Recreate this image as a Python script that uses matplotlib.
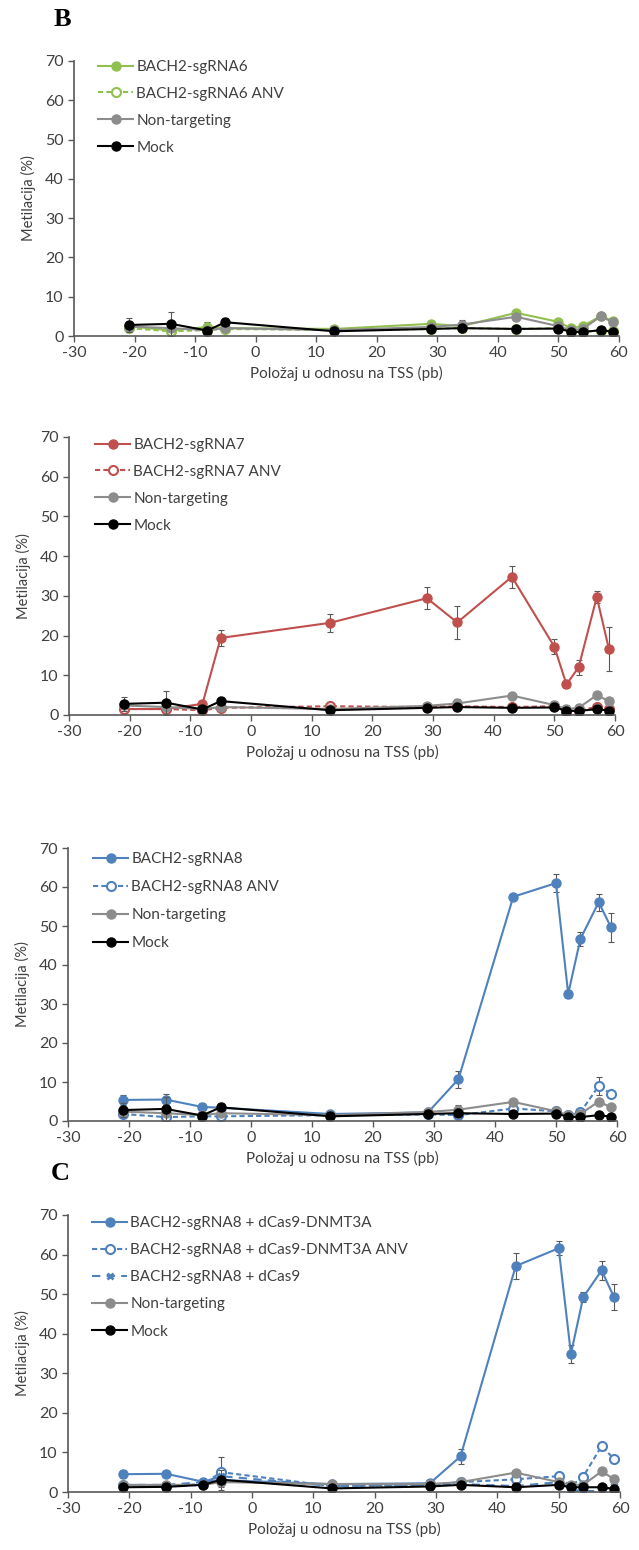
import matplotlib
matplotlib.use('Agg')
import matplotlib.pyplot as plt

# CpG positions relative to TSS (bp)
pos = [-21, -14, -8, -5, 13, 29, 34, 43, 50, 52, 54, 57, 59]

# Panel B controls (shared by the three B charts)
nt_b = [2.4, 2.0, 1.5, 2.0, 1.5, 2.3, 2.9, 4.9, 2.5, 1.5, 1.8, 5.0, 3.5]
nt_b_err = [1.0, 0.8, 0.6, 0.8, 0.5, 0.5, 1.2, 0.5, 1.0, 1.0, 1.0, 0.6, 0.6]
mock_b = [2.8, 3.1, 1.4, 3.5, 1.2, 1.8, 2.0, 1.8, 1.9, 1.1, 1.0, 1.5, 1.1]
mock_b_err = [1.8, 3.0, 0.8, 1.0, 0.5, 0.4, 0.5, 0.4, 0.5, 0.4, 0.3, 0.4, 0.3]

# sgRNA6
sg6 = [2.5, 1.4, 2.3, 2.0, 1.8, 3.1, 2.5, 5.9, 3.6, 2.0, 2.5, 5.1, 3.8]
sg6_err = [1.0, 0.8, 1.2, 1.0, 0.6, 0.6, 0.8, 0.8, 0.6, 0.5, 0.5, 0.7, 0.6]
sg6_anv = [2.0, 1.2, 1.5, 1.8, 1.5, 1.8, 2.0, 1.8, 2.0, 1.3, 1.2, 1.3, 1.2]
sg6_anv_err = [0.5, 0.4, 0.4, 0.4, 0.3, 0.3, 0.4, 0.3, 0.4, 0.3, 0.3, 0.3, 0.3]

# sgRNA7
sg7 = [1.5, 1.5, 2.8, 19.4, 23.2, 29.4, 23.3, 34.8, 17.2, 7.7, 12.0, 29.7, 16.6]
sg7_err = [0.8, 0.6, 0.6, 2.1, 2.2, 2.8, 4.1, 2.8, 1.9, 0.8, 1.9, 1.6, 5.5]
sg7_anv = [1.5, 1.5, 1.2, 1.8, 2.2, 2.0, 2.2, 2.0, 2.2, 0.8, 1.2, 2.0, 1.5]
sg7_anv_err = [0.5, 0.4, 0.4, 0.4, 0.3, 0.3, 0.4, 0.3, 0.4, 0.3, 0.3, 0.3, 0.3]

# sgRNA8
sg8 = [5.4, 5.5, 3.6, 3.4, 1.8, 2.2, 10.7, 57.5, 61.0, 32.6, 46.7, 56.1, 49.7]
sg8_err = [1.2, 1.3, 0.9, 0.8, 0.4, 0.4, 2.2, 0.6, 2.4, 1.0, 1.8, 2.2, 3.7]
sg8_anv = [1.8, 1.0, 1.2, 1.2, 1.5, 1.7, 1.5, 3.2, 2.5, 1.5, 2.2, 9.0, 7.0]
sg8_anv_err = [0.5, 0.4, 0.4, 0.4, 0.3, 0.3, 0.4, 0.4, 0.4, 0.3, 0.4, 2.3, 0.4]

# Panel C: sgRNA8 with dCas9 variants + own controls
dnmt = [4.5, 4.6, 2.6, 3.0, 2.0, 2.2, 9.0, 57.1, 61.6, 34.9, 49.2, 56.0, 49.3]
dnmt_err = [1.0, 0.8, 0.6, 0.8, 0.4, 0.4, 1.8, 3.3, 1.8, 2.3, 1.3, 2.3, 3.2]
dnmt_anv = [1.8, 1.5, 2.0, 5.0, 1.5, 1.8, 2.5, 3.2, 4.0, 1.5, 3.9, 11.6, 8.4]
dnmt_anv_err = [0.5, 0.4, 0.5, 3.8, 0.3, 0.3, 0.4, 0.4, 0.5, 0.3, 0.4, 0.6, 0.5]
dcas9 = [1.8, 1.8, 2.5, 4.0, 1.5, 1.8, 2.0, 1.5, 2.5, 0.5, 0.3, 0.2, 1.5]
dcas9_err = [0.4, 0.4, 0.4, 0.6, 0.3, 0.3, 0.4, 0.3, 0.4, 0.3, 0.3, 0.3, 0.3]
nt_c = [1.8, 1.8, 1.8, 2.5, 2.0, 2.0, 2.5, 4.9, 2.5, 1.8, 1.8, 5.2, 3.3]
nt_c_err = [0.5, 0.4, 0.5, 0.8, 0.3, 0.3, 0.5, 0.4, 0.5, 0.4, 0.4, 0.5, 0.4]
mock_c = [1.2, 1.3, 1.8, 3.1, 0.9, 1.4, 1.8, 1.2, 1.8, 1.2, 1.2, 1.2, 0.8]
mock_c_err = [0.4, 0.4, 0.5, 2.5, 0.3, 0.3, 0.4, 0.3, 0.4, 0.3, 0.3, 0.3, 0.3]

green = '#92C050'
red = '#C0504D'
blue = '#4F81BD'
gray = '#8C8C8C'
txt = '#404040'

plt.rcParams['font.family'] = ['Lato', 'DejaVu Sans']
plt.rcParams['axes.unicode_minus'] = False  # Excel style hyphen minus

fig = plt.figure(figsize=(6.39, 15.5), dpi=100)

# axes boxes in pixels: left, right, top, bottom
boxes = [(74, 619, 61, 336), (69, 615, 437, 715), (68, 617, 848, 1121), (68, 620, 1215, 1492)]
legend_off = [(24, 7), (26, 9), (25, 12), (24, 9)]
legend_space = [0.84, 0.84, 0.92, 0.86]


def add_series(ax, y, err, label, color, style):
    ax.errorbar(pos, y, yerr=err, fmt='none', ecolor='#595959', elinewidth=0.8, capsize=2.5, capthick=0.8)
    if style == 'solid':
        ax.plot(pos, y, '-o', color=color, lw=1.5, ms=6.5, label=label)
    elif style == 'open':
        ax.plot(pos, y, '--o', color=color, lw=1.5, ms=6.5, mfc='white', mew=1.5,
                dashes=(2.5, 1.5), label=label)
    elif style == 'cross':
        ax.plot(pos, y, '--x', color=color, lw=1.5, ms=5, mew=2, dashes=(4, 3), label=label)


panels = [
    [(sg6, sg6_err, 'BACH2-sgRNA6', green, 'solid'),
     (sg6_anv, sg6_anv_err, 'BACH2-sgRNA6 ANV', green, 'open'),
     (nt_b, nt_b_err, 'Non-targeting', gray, 'solid'),
     (mock_b, mock_b_err, 'Mock', 'black', 'solid')],
    [(sg7, sg7_err, 'BACH2-sgRNA7', red, 'solid'),
     (sg7_anv, sg7_anv_err, 'BACH2-sgRNA7 ANV', red, 'open'),
     (nt_b, nt_b_err, 'Non-targeting', gray, 'solid'),
     (mock_b, mock_b_err, 'Mock', 'black', 'solid')],
    [(sg8, sg8_err, 'BACH2-sgRNA8', blue, 'solid'),
     (sg8_anv, sg8_anv_err, 'BACH2-sgRNA8 ANV', blue, 'open'),
     (nt_b, nt_b_err, 'Non-targeting', gray, 'solid'),
     (mock_b, mock_b_err, 'Mock', 'black', 'solid')],
    [(dnmt, dnmt_err, 'BACH2-sgRNA8 + dCas9-DNMT3A', blue, 'solid'),
     (dnmt_anv, dnmt_anv_err, 'BACH2-sgRNA8 + dCas9-DNMT3A ANV', blue, 'open'),
     (dcas9, dcas9_err, 'BACH2-sgRNA8 + dCas9', blue, 'cross'),
     (nt_c, nt_c_err, 'Non-targeting', gray, 'solid'),
     (mock_c, mock_c_err, 'Mock', 'black', 'solid')],
]

for i, series in enumerate(panels):
    l, r, t, b = boxes[i]
    ax = fig.add_axes([l / 639, 1 - b / 1550, (r - l) / 639, (b - t) / 1550])
    for y, err, label, color, style in series:
        add_series(ax, y, err, label, color, style)

    ax.set_xlim(-30, 60)
    ax.set_ylim(0, 70)
    ax.set_xticks(range(-30, 61, 10))
    ax.set_yticks(range(0, 71, 10))
    for side in ['top', 'right']:
        ax.spines[side].set_visible(False)
    for side in ['left', 'bottom']:
        ax.spines[side].set_color('#595959')
        ax.spines[side].set_linewidth(1.2)
    ax.tick_params(colors='#595959', labelcolor=txt, labelsize=11.5, length=4, width=1)
    ax.set_xlabel('Položaj u odnosu na TSS (pb)', fontsize=11, color=txt, labelpad=4)
    ax.set_ylabel('Metilacija (%)', fontsize=10.5, color=txt, labelpad=6)

    dx, dy = legend_off[i]
    ax.legend(loc='upper left', frameon=False, fontsize=11, borderpad=0, borderaxespad=0,
              handlelength=2.3, handletextpad=0.2, labelspacing=legend_space[i],
              bbox_to_anchor=(dx / (r - l), 1 - (dy - 8) / (b - t)), labelcolor=txt)

# panel letters
fig.text(62 / 639, 1 - 20 / 1550, 'B', family='Liberation Serif', fontweight='bold', fontsize=19,
         ha='center', va='center')
fig.text(60 / 639, 1 - 1174 / 1550, 'C', family='Liberation Serif', fontweight='bold', fontsize=19,
         ha='center', va='center')

plt.savefig('out.png', dpi=100)
